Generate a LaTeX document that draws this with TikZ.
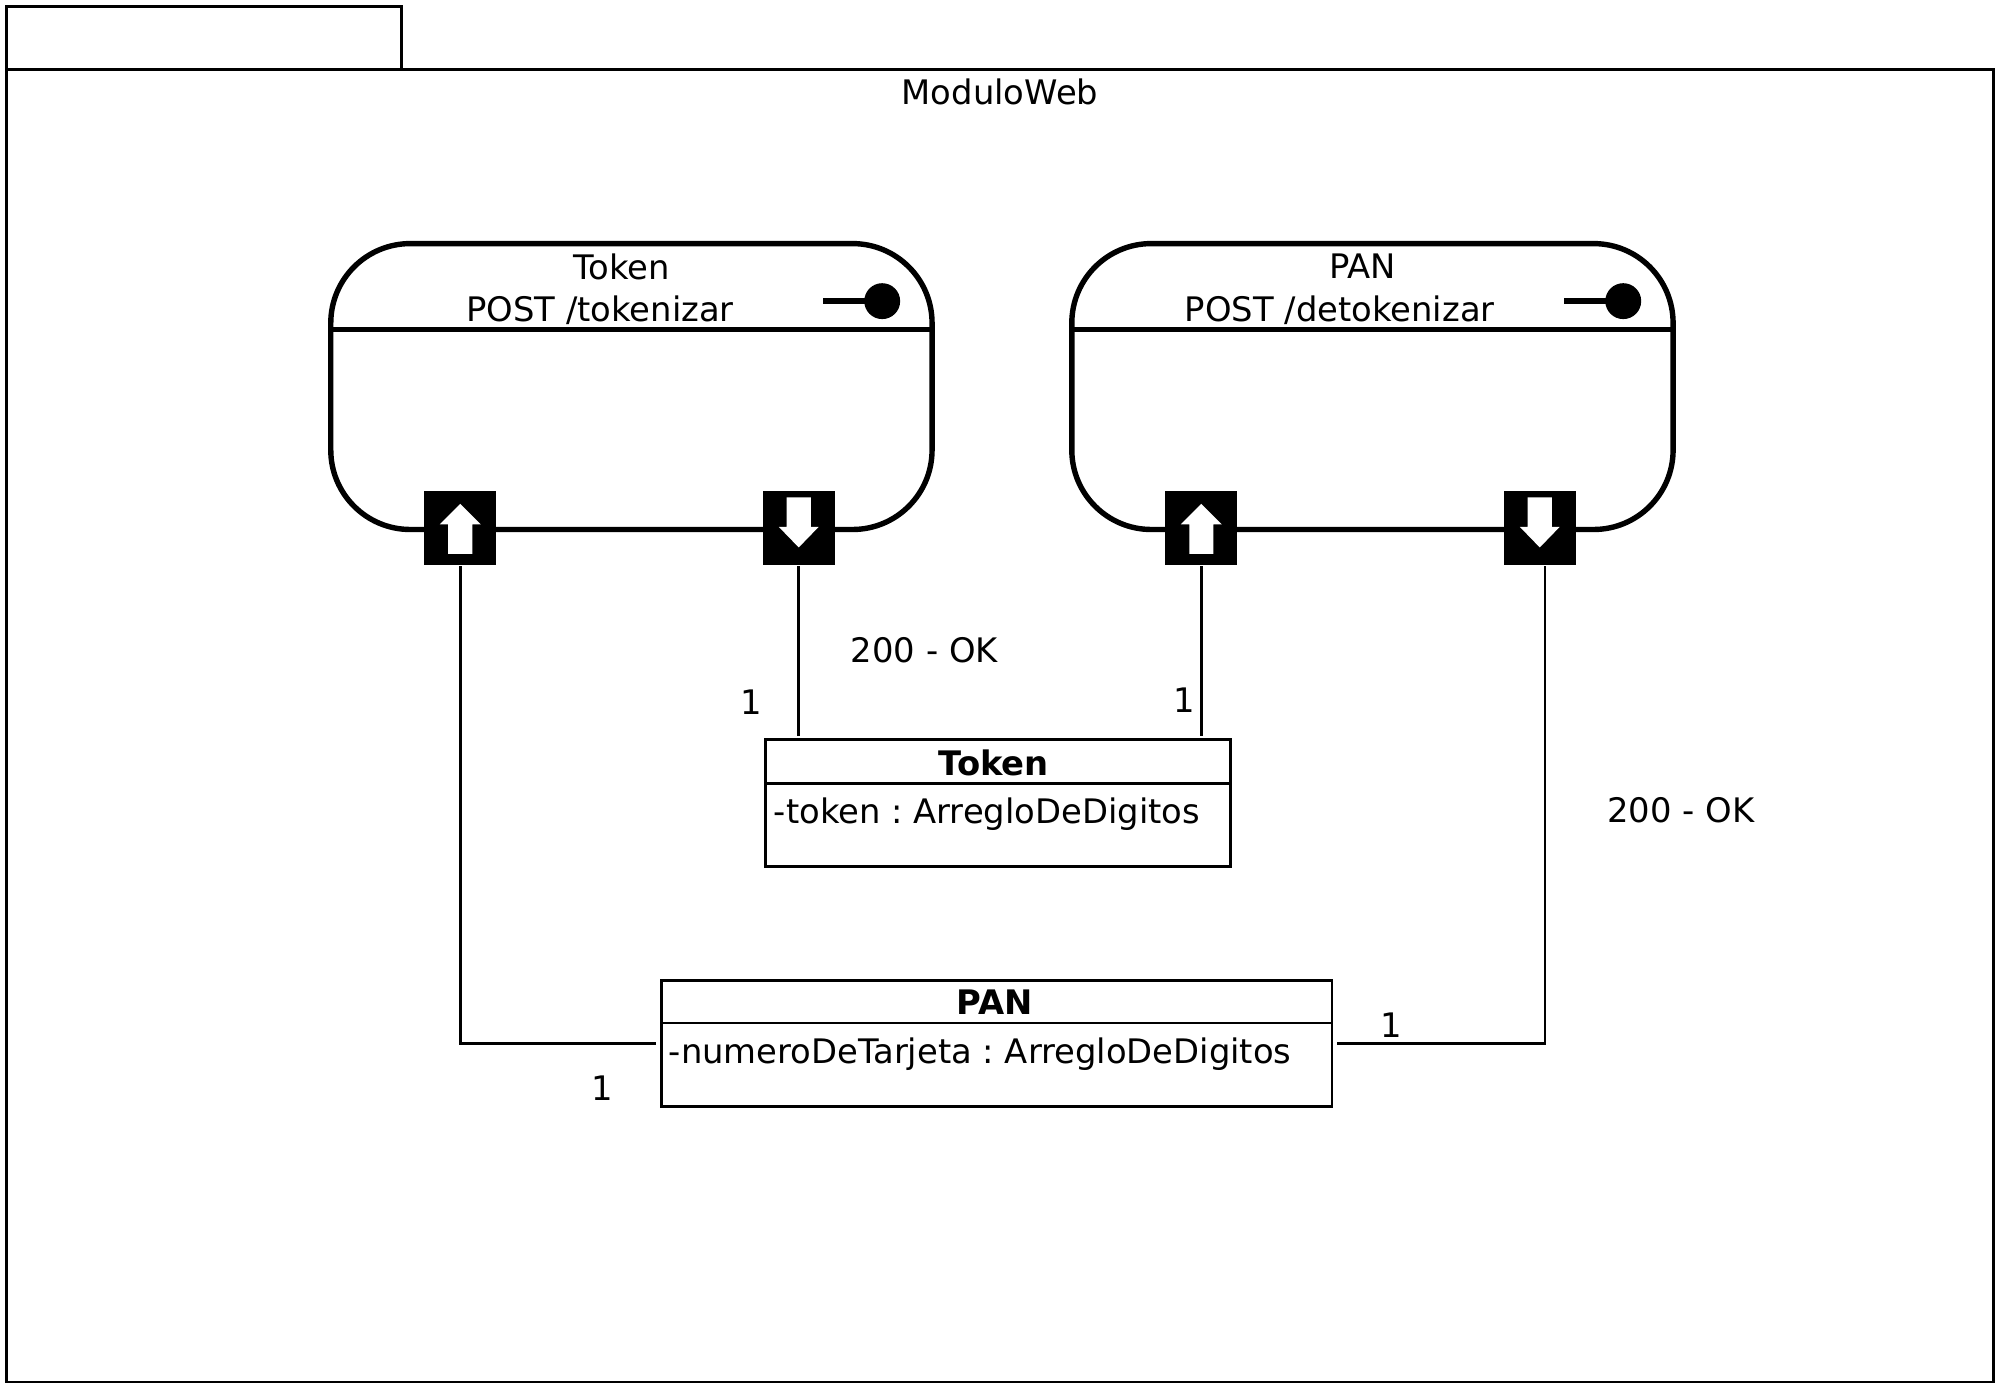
\documentclass[tikz,border=0pt]{standalone}
\usepackage{fontspec}
\setmainfont{DejaVu Sans}
\usetikzlibrary{positioning, calc}

\tikzset{
    comp/.style={draw, line width=1.2pt, rounded corners=0.62cm, minimum width=4.69cm, minimum height=2.23cm},
    port/.style={fill=black, inner sep=0pt, minimum width=0.56cm, minimum height=0.58cm},
    cls/.style={draw, line width=0.6pt, inner sep=0pt},
    lbl/.style={inner sep=0pt, font=\fontsize{7.5}{9}\selectfont},
    conn/.style={line width=0.6pt}
}

\begin{document}
\frenchspacing
\begin{tikzpicture}[font=\fontsize{7.5}{9}\selectfont]
    \useasboundingbox (0,0) rectangle (15.6,10.857);
    % package
    \draw[line width=0.6pt] (0.05,10.317) rectangle (3.13,10.807);
    \draw[line width=0.6pt] (0.05,0.077) rectangle (15.55,10.317);
    \node[lbl] (modweb) at (7.80,10.137) {ModuloWeb};

    % components
    \node[comp] (tk) at (4.925,7.842) {};
    \node[comp] (pn) at (10.705,7.842) {};
    \foreach \c in {tk,pn} {
        \draw[line width=1.2pt] ([yshift=-0.69cm]\c.north west) -- ([yshift=-0.69cm]\c.north east);
        \draw[line width=1.2pt] ([xshift=-0.87cm,yshift=-0.47cm]\c.north east) coordinate (\c lol) -- ++(0.35,0);
        \fill ([xshift=-0.41cm,yshift=-0.47cm]\c.north east) circle (0.14);
    }
    \node[lbl] (tkname) at (4.85,8.777) {Token};
    \node[lbl] (tkop) at (4.68,8.437) {POST /tokenizar};
    \node[lbl] (pnname) at (10.63,8.777) {PAN};
    \node[lbl] (pnop) at (10.45,8.437) {POST /detokenizar};

    % ports
    \node[port] (tkin) at (3.59,6.737) {};
    \node[port] (tkout) at (6.23,6.737) {};
    \node[port] (pnin) at (9.37,6.737) {};
    \node[port] (pnout) at (12.01,6.737) {};
    \foreach \p in {tkin,pnin} {
        \fill[white, shift={(\p)}] (-0.094,-0.20) -- (-0.094,0.03) -- (-0.16,0.03) -- (0,0.19)
            -- (0.16,0.03) -- (0.094,0.03) -- (0.094,-0.20) -- cycle;
    }
    \foreach \p in {tkout,pnout} {
        \fill[white, shift={(\p)}] (-0.094,0.24) -- (-0.094,0.01) -- (-0.155,0.01) -- (0,-0.15)
            -- (0.155,0.01) -- (0.094,0.01) -- (0.094,0.24) -- cycle;
    }

    % classes
    \node[cls, minimum width=3.63cm, minimum height=0.99cm] (tkcls) at (7.785,4.592) {};
    \draw[line width=0.6pt] ([yshift=-0.35cm]tkcls.north west) -- ([yshift=-0.35cm]tkcls.north east);
    \node[lbl, font=\fontsize{7.5}{9}\selectfont\bfseries] at (7.75,4.907) {Token};
    \node[lbl, anchor=west] at (6.03,4.507) {-token : ArregloDeDigitos};

    \node[cls, minimum width=5.23cm, minimum height=0.98cm] (pancls) at (7.775,2.717) {};
    \draw[line width=0.6pt] ([yshift=-0.34cm]pancls.north west) -- ([yshift=-0.34cm]pancls.north east);
    \node[lbl, font=\fontsize{7.5}{9}\selectfont\bfseries] at (7.76,3.037) {PAN};
    \node[lbl, anchor=west] at (5.21,2.637) {-numeroDeTarjeta : ArregloDeDigitos};

    % connectors
    \draw[conn] (tkout.south) -- ([yshift=0.02cm]tkout.south |- tkcls.north);
    \draw[conn] (pnin.south) -- ([yshift=0.02cm]pnin.south |- tkcls.north);
    \draw[conn] (tkin.south) |- ([xshift=-0.03cm]pancls.west);
    \draw[conn] ([xshift=0.04cm]pnout.south) |- ([xshift=0.03cm]pancls.east);

    % labels
    \node[lbl] (ok1) at (7.21,5.787) {200 - OK};
    \node[lbl] (ok2) at (13.11,4.537) {200 - OK};
    \node[lbl] (m1) at (5.86,5.377) {1};
    \node[lbl] (m2) at (9.24,5.397) {1};
    \node[lbl] (m3) at (4.70,2.367) {1};
    \node[lbl] (m4) at (10.85,2.857) {1};
\end{tikzpicture}
\end{document}
